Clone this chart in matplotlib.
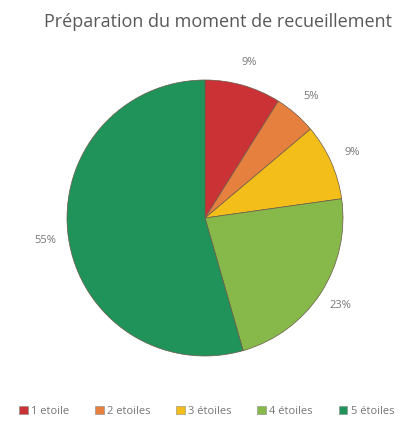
import matplotlib
matplotlib.use("Agg")
import matplotlib.pyplot as plt
from matplotlib.patches import Patch

categories = ["1 etoile", "2 etoiles", "3 étoiles", "4 étoiles", "5 étoiles"]
values = [9, 5, 9, 23, 55]
colors = ["#CB3236", "#E6803F", "#F4BE1A", "#86B84A", "#1F935A"]

plt.rcParams["font.family"] = ["Open Sans", "DejaVu Sans"]
fig = plt.figure(figsize=(4.01, 4.23), dpi=100)
ax = fig.add_axes([67 / 401, (423 - 218 - 138) / 423, 276 / 401, 276 / 423])

it = iter(values)
wedges, texts, autotexts = ax.pie(
    values, colors=colors, startangle=90, counterclock=False,
    autopct=lambda p: f"{next(it)}%", pctdistance=1.17,
    wedgeprops=dict(edgecolor="#6b5a4a", linewidth=0.5),
    textprops=dict(color="#777777", fontsize=8),
)
ax.set_xlim(-1, 1); ax.set_ylim(-1, 1)
ax.set_aspect("auto")

fig.text(0.543, 0.948, "Préparation du moment de recueillement",
         ha="center", va="center", fontsize=13, color="#595959")

handles = [Patch(facecolor=c, edgecolor="#888888", linewidth=0.4) for c in colors]
fig.legend(handles, categories, loc="center", bbox_to_anchor=(0.515, 0.028),
           ncol=5, frameon=False, fontsize=8, handlelength=0.8, handleheight=0.8,
           handletextpad=0.3, columnspacing=2.3, labelcolor="#777777")

fig.savefig("out.png", dpi=100)
